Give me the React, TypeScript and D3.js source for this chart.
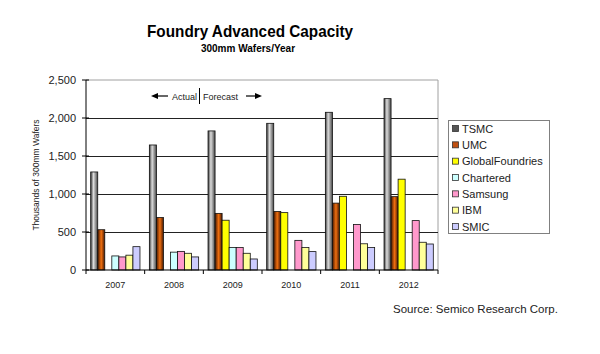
import React from "react";
import * as d3 from "d3";

const years = ["2007", "2008", "2009", "2010", "2011", "2012"];
const companies = ["TSMC", "UMC", "GlobalFoundries", "Chartered", "Samsung", "IBM", "SMIC"];

// thousands of 300mm wafers per year, 0 = no bar
const tsmc = [1290, 1645, 1830, 1930, 2075, 2255];
const umc = [530, 690, 745, 770, 880, 965];
const globalFoundries = [0, 0, 655, 755, 970, 1195];
const chartered = [185, 235, 295, 0, 0, 0];
const samsung = [172, 245, 295, 390, 600, 650];
const ibm = [195, 220, 220, 295, 345, 365];
const smic = [307, 172, 145, 242, 295, 342];

const yTicks = [0, 500, 1000, 1500, 2000, 2500];

const seriesValues = [tsmc, umc, globalFoundries, chartered, samsung, ibm, smic];

const barFill = ["url(#gTsmc)", "url(#gUmc)", "#ffff00", "#ccffff", "#ff99cc", "#ffff99", "#ccccff"];
const legendFill = ["#555555", "#c05010", "#ffff00", "#ccffff", "#ff99cc", "#ffff99", "#ccccff"];

const width = 600,
  height = 354;
const margin = { left: 86, right: 162, top: 80, bottom: 84 };
const font = "Arial, 'Liberation Sans', sans-serif";

export default function App() {
  const x0 = d3
    .scaleBand()
    .domain(years)
    .range([margin.left, width - margin.right])
    .paddingInner(0.16)
    .paddingOuter(0.08);
  const x1 = d3.scaleBand().domain(companies).range([0, x0.bandwidth()]);
  const y = d3
    .scaleLinear()
    .domain([0, 2500])
    .range([height - margin.bottom, margin.top]);

  const left = margin.left,
    right = width - margin.right;
  const step = x0.step();
  const fmt = d3.format(",");

  const legendY = d3
    .scalePoint()
    .domain(companies)
    .range([128.5, 226.5]);

  return (
    <svg
      width={width}
      height={height}
      style={{ position: "absolute", left: 0, top: 0, background: "#fff" }}
      fontFamily={font}
    >
      <defs>
        <linearGradient id="gTsmc" x1="0" x2="1" y1="0" y2="0">
          <stop offset="0" stopColor="#3a3a3a" />
          <stop offset="0.4" stopColor="#dcdcdc" />
          <stop offset="1" stopColor="#484848" />
        </linearGradient>
        <linearGradient id="gUmc" x1="0" x2="1" y1="0" y2="0">
          <stop offset="0" stopColor="#4a1800" />
          <stop offset="0.5" stopColor="#f07010" />
          <stop offset="1" stopColor="#4a1800" />
        </linearGradient>
      </defs>

      <text
        x={250}
        y={37}
        textAnchor="middle"
        fontSize={17}
        fontWeight="bold"
        textLength={206}
        lengthAdjust="spacingAndGlyphs"
      >
        Foundry Advanced Capacity
      </text>
      <text x={248} y={52} textAnchor="middle" fontSize={10} fontWeight="bold">
        300mm Wafers/Year
      </text>

      {/* plot frame and grid */}
      <line x1={left} x2={right} y1={y(2500)} y2={y(2500)} stroke="#a0a0a0" />
      <line x1={right} x2={right} y1={y(2500)} y2={y(0)} stroke="#a0a0a0" />
      {yTicks.slice(1, -1).map(t => (
        <line key={t} x1={left} x2={right} y1={Math.round(y(t)) + 0.5} y2={Math.round(y(t)) + 0.5} stroke="#222" />
      ))}

      {/* bars */}
      {seriesValues.map((vals, si) =>
        vals.map((v, yi) =>
          v > 0 ? (
            <rect
              key={si + "-" + yi}
              x={x0(years[yi])! + x1(companies[si])!}
              y={y(v)}
              width={x1.bandwidth()}
              height={y(0) - y(v)}
              fill={barFill[si]}
              stroke="#111"
              strokeWidth={0.8}
            />
          ) : null
        )
      )}

      {/* axes */}
      <line x1={left} x2={left} y1={y(2500)} y2={y(0)} stroke="#000" />
      <line x1={left} x2={right} y1={y(0)} y2={y(0)} stroke="#000" />
      {yTicks.map(t => (
        <g key={t}>
          <line x1={left - 4} x2={left + 3} y1={y(t)} y2={y(t)} stroke="#000" />
          <text x={76} y={y(t) + 4} textAnchor="end" fontSize={11} fill="#222">
            {fmt(t)}
          </text>
        </g>
      ))}
      {d3.range(years.length + 1).map(i => (
        <line key={i} x1={left + i * step} x2={left + i * step} y1={y(0)} y2={y(0) + 4} stroke="#000" />
      ))}
      {years.map(yr => (
        <text key={yr} x={x0(yr)! + x0.bandwidth() / 2} y={288} textAnchor="middle" fontSize={9} fill="#222">
          {yr}
        </text>
      ))}
      <text
        transform={`translate(39,${(y(0) + y(2500)) / 2}) rotate(-90)`}
        textAnchor="middle"
        fontSize={8.5}
        fill="#222"
      >
        Thousands of 300mm Wafers
      </text>

      {/* actual / forecast marker */}
      <g fontSize={9} fill="#222">
        <line x1={156} x2={168} y1={96} y2={96} stroke="#000" strokeWidth={1.2} />
        <path d="M151,96 L158,93 L158,99 Z" fill="#000" />
        <text x={172} y={99.5}>Actual</text>
        <line x1={199.5} x2={199.5} y1={88} y2={104} stroke="#000" />
        <text x={203} y={99.5}>Forecast</text>
        <line x1={246} x2={257} y1={96} y2={96} stroke="#000" strokeWidth={1.2} />
        <path d="M262,96 L255,93 L255,99 Z" fill="#000" />
      </g>

      {/* legend */}
      <rect x={448.5} y={120.5} width={101} height={113} fill="#fff" stroke="#808080" />
      {companies.map((c, i) => (
        <g key={c}>
          <rect
            x={452.5}
            y={legendY(c)! - 3}
            width={6}
            height={6}
            fill={legendFill[i]}
            stroke="#333"
            strokeWidth={0.8}
          />
          <text x={462} y={legendY(c)! + 4} fontSize={11} fill="#222">
            {c}
          </text>
        </g>
      ))}

      <text x={393} y={313} fontSize={11.5} fill="#222">
        Source:  Semico Research Corp.
      </text>
    </svg>
  );
}
